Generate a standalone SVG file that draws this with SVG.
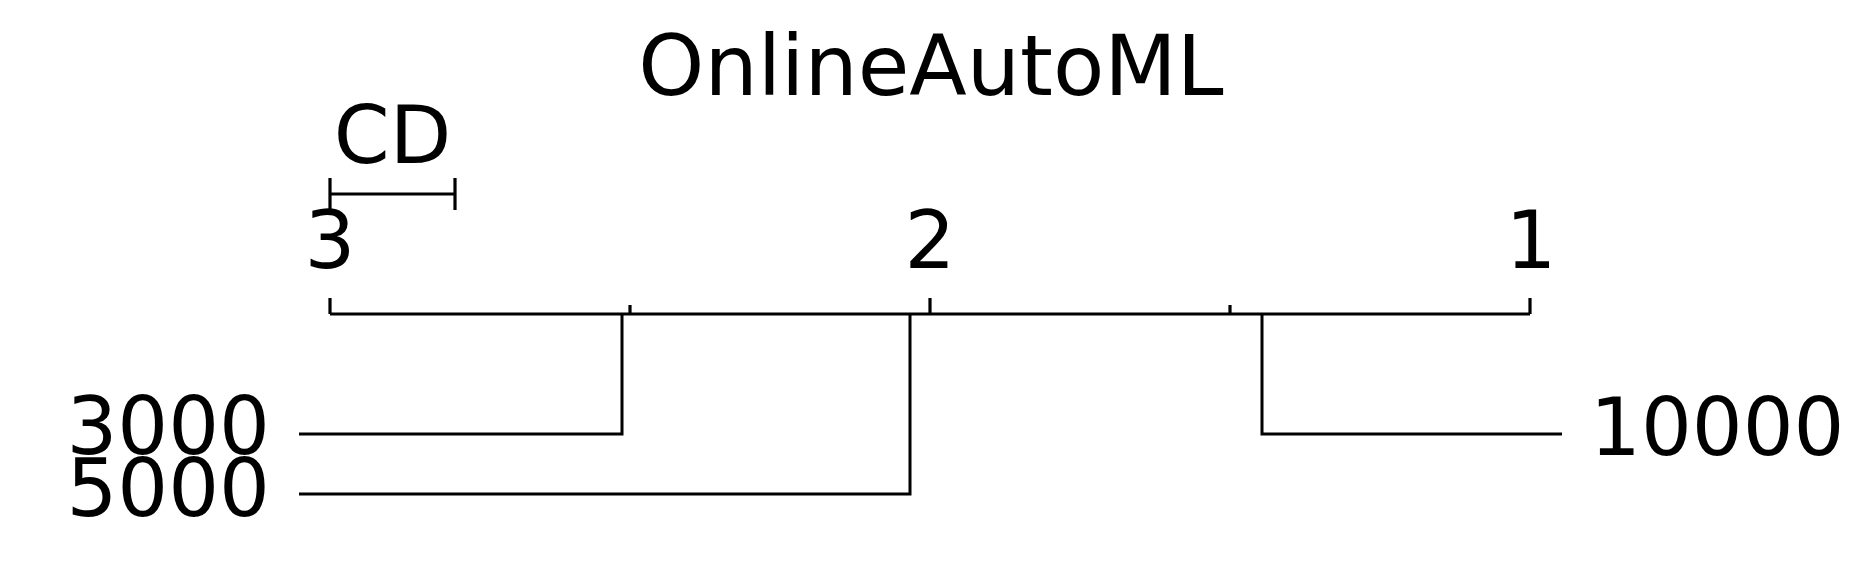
<svg xmlns="http://www.w3.org/2000/svg" width="1871" height="584" viewBox="0 0 1871 584">
<style>
text{font-family:"DejaVu Sans",sans-serif;fill:#000}
.lbl{font-size:80px}
.title{font-size:84px}
.ax{stroke:#000;stroke-width:3.2;fill:none;stroke-linecap:butt}
.ln{stroke:#000;stroke-width:3;fill:none;stroke-linejoin:miter}
</style>
<rect width="1871" height="584" fill="#fff"/>
<g id="title"><text class="title" x="931" y="95" text-anchor="middle">OnlineAutoML</text></g>
<g id="cd">
<path class="ax" d="M330 194H455M330 178V210M455 178V210"/>
<text class="lbl" x="392.5" y="163" text-anchor="middle">CD</text>
</g>
<g id="axis">
<path class="ax" d="M330 314H1530M330 298V314M630 305V314M930 298V314M1230 305V314M1530 298V314"/>
<text class="lbl" x="330" y="268" text-anchor="middle">3</text>
<text class="lbl" x="930" y="268" text-anchor="middle">2</text>
<text class="lbl" x="1531" y="268" text-anchor="middle">1</text>
</g>
<g id="connectors">
<path class="ln" d="M299 434H622V314"/>
<path class="ln" d="M299 494H910V314"/>
<path class="ln" d="M1562 434H1262V314"/>
</g>
<g id="node-3000"><text class="lbl" x="270" y="454" text-anchor="end">3000</text></g>
<g id="node-5000"><text class="lbl" x="270" y="516" text-anchor="end">5000</text></g>
<g id="node-10000"><text class="lbl" x="1590" y="455">10000</text></g>
</svg>
